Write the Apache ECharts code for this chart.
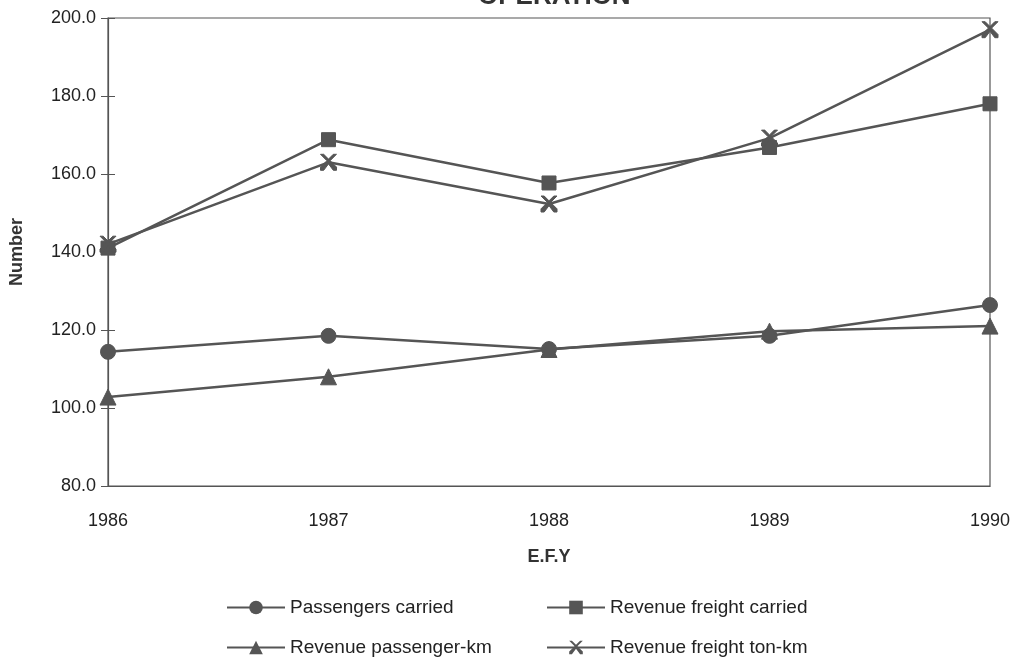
<!DOCTYPE html>
<html lang="en">
<head>
<meta charset="UTF-8">
<title>Operation</title>
<script src="https://cdn.jsdelivr.net/npm/echarts@6/dist/echarts.min.js"></script>
<style>
  html, body { margin: 0; padding: 0; background: #fff; }
  #chart { width: 1024px; height: 666px; }
</style>
</head>
<body>
<div id="chart"></div>
<script>
// data
var years = ['1986', '1987', '1988', '1989', '1990'];
var passengersCarried = [114.4, 118.5, 115.1, 118.5, 126.4];
var revenuePassengerKm = [102.8, 108.0, 115.0, 119.7, 121.0];
var revenueFreightCarried = [141.0, 168.8, 157.7, 166.8, 178.0];
var revenueFreightTonKm = [142.0, 163.0, 152.3, 169.2, 197.0];

var ink = '#555';
var font = 'Liberation Sans, Arial, sans-serif';

var myChart = echarts.init(document.getElementById('chart'), null, { renderer: 'canvas' });

function line(name, data, symbol, size) {
  return {
    name: name,
    type: 'line',
    data: data,
    symbol: symbol,
    symbolSize: size,
    lineStyle: { color: ink, width: 2.5 },
    itemStyle: { color: ink, borderColor: ink },
    emphasis: { disabled: true }
  };
}

var legendText = { color: '#222', fontSize: 19, fontFamily: font };

var option = {
  animation: false,
  title: {
    text: 'OPERATION',
    left: 473,
    top: -21,
    textStyle: { color: '#333', fontSize: 26, fontWeight: 'bold', fontFamily: font }
  },
  grid: {
    left: 108, right: 34, top: 18, bottom: 180,
    show: true, borderColor: ink, borderWidth: 1.2
  },
  legend: [
    {
      orient: 'vertical', left: 226, top: 598, height: 68, padding: 0, itemGap: 21,
      itemWidth: 58, itemHeight: 17,
      data: ['Passengers carried', 'Revenue passenger-km'],
      textStyle: legendText
    },
    {
      orient: 'vertical', left: 546, top: 598, height: 68, padding: 0, itemGap: 21,
      itemWidth: 58, itemHeight: 17,
      data: ['Revenue freight carried', 'Revenue freight ton-km'],
      textStyle: legendText
    }
  ],
  xAxis: {
    type: 'category',
    data: years,
    boundaryGap: false,
    name: 'E.F.Y',
    nameLocation: 'middle',
    nameGap: 62,
    nameTextStyle: { color: '#333', fontSize: 18, fontWeight: 'bold', fontFamily: font },
    axisLine: { lineStyle: { color: ink, width: 1.2 } },
    axisTick: { show: false },
    axisLabel: { color: '#222', fontSize: 18, fontFamily: font, margin: 26 },
    splitLine: { show: false }
  },
  yAxis: [
    {
      type: 'value',
      min: 80, max: 200, interval: 20,
      name: 'Number',
      nameLocation: 'middle',
      nameGap: 82,
      nameTextStyle: { color: '#333', fontSize: 18, fontWeight: 'bold', fontFamily: font },
      axisLine: { show: true, lineStyle: { color: ink, width: 1.2 } },
      axisTick: { show: true, length: 7, lineStyle: { color: ink } },
      axisLabel: {
        color: '#222', fontSize: 18, fontFamily: font, margin: 12,
        formatter: function (v) { return v.toFixed(1); }
      },
      splitLine: { show: false }
    },
    {
      type: 'value',
      position: 'left',
      min: 80, max: 200, interval: 20,
      axisLine: { show: false },
      axisTick: { show: true, inside: true, length: 7, lineStyle: { color: ink } },
      axisLabel: { show: false },
      splitLine: { show: false }
    }
  ],
  series: [
    line('Passengers carried', passengersCarried, 'circle', 15),
    line('Revenue freight carried', revenueFreightCarried, 'rect', 14),
    line('Revenue passenger-km', revenuePassengerKm, 'triangle', 16),
    line('Revenue freight ton-km', revenueFreightTonKm,
      'path://M0,0 L2,0 L5,3 L8,0 L10,0 L6,4 L10,8 L10,10 L8,10 L5,6 L2,10 L0,10 L0,8 L4,4 L0,0 Z', 16)
  ]
};

myChart.setOption(option);
window.addEventListener('resize', myChart.resize);
</script>
</body>
</html>
